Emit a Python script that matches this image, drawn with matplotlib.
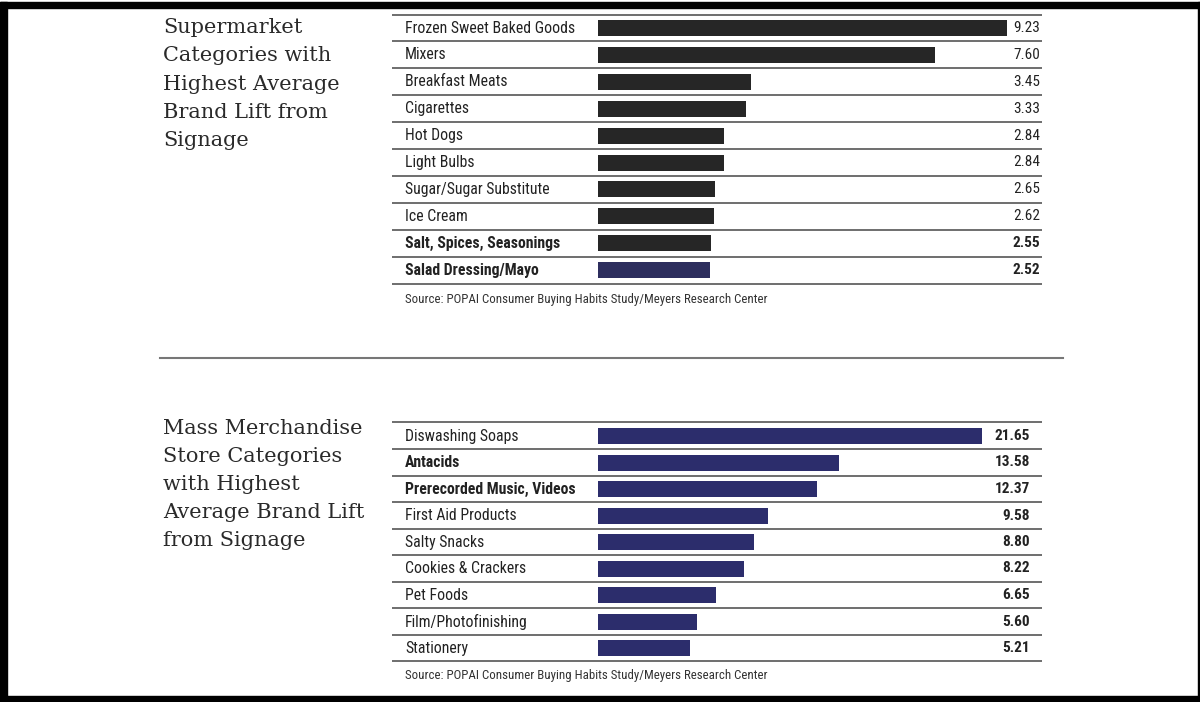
import matplotlib.pyplot as plt
from matplotlib import font_manager
from matplotlib.patches import Rectangle
from matplotlib.lines import Line2D

# supermarket panel
super_cats = ["Frozen Sweet Baked Goods", "Mixers", "Breakfast Meats", "Cigarettes",
              "Hot Dogs", "Light Bulbs", "Sugar/Sugar Substitute", "Ice Cream",
              "Salt, Spices, Seasonings", "Salad Dressing/Mayo"]
super_vals = [9.23, 7.60, 3.45, 3.33, 2.84, 2.84, 2.65, 2.62, 2.55, 2.52]
super_bold = [False] * 8 + [True, True]

# mass merchandise panel
mass_cats = ["Diswashing Soaps", "Antacids", "Prerecorded Music, Videos",
             "First Aid Products", "Salty Snacks", "Cookies & Crackers",
             "Pet Foods", "Film/Photofinishing", "Stationery"]
mass_vals = [21.65, 13.58, 12.37, 9.58, 8.80, 8.22, 6.65, 5.60, 5.21]
mass_bold = [False, True, True, False, False, False, False, False, False]

source = "Source: POPAI Consumer Buying Habits Study/Meyers Research Center"
title_top = "Supermarket\nCategories with\nHighest Average\nBrand Lift from\nSignage"
title_bot = "Mass Merchandise\nStore Categories\nwith Highest\nAverage Brand Lift\nfrom Signage"

W, H = 1200, 702
names = {f.name for f in font_manager.fontManager.ttflist}
SANS = [n for n in ["Liberation Sans Narrow", "DejaVu Sans Condensed", "Roboto Condensed"]
        if n in names] + ["DejaVu Sans"]
SERIF = ["DejaVu Serif"]

fig = plt.figure(figsize=(W / 100, H / 100), dpi=100)
fig.patch.set_facecolor("white")


def px_ax(x0, y0, x1, y1):
    # axes placed in pixel coordinates (y from top)
    return fig.add_axes([x0 / W, 1 - y1 / H, (x1 - x0) / W, (y1 - y0) / H])


def panel(cats, vals, bold, colors, zero_px, scale, row0, step, top_px, bot_px,
          val_right, val_bold, src_px, line_top):
    ax = px_ax(390, top_px, 1045, bot_px)
    ax.set_xlim((390 - zero_px) / scale, (1045 - zero_px) / scale)
    ax.set_ylim((bot_px - row0) / step, (top_px - row0) / step)
    ax.axis("off")
    idx = list(range(len(cats)))
    ax.barh(idx, vals, height=16 / step, left=0, color=colors, edgecolor="none")
    xl = (405 - zero_px) / scale
    xr = (val_right - zero_px) / scale
    x_lo, x_hi = (392 - zero_px) / scale, (1042 - zero_px) / scale
    lines = [(line_top - row0) / step] + [i + 0.5 for i in idx]
    ax.hlines(lines, x_lo, x_hi, color="#555555", lw=1.2)
    for i, (c, v) in enumerate(zip(cats, vals)):
        ax.text(xl, i, c, ha="left", va="center", fontsize=11.3, family=SANS,
                fontstretch="condensed",
                fontweight="semibold" if bold[i] else "normal", color="#222222")
        ax.text(xr, i, f"{v:.2f}", ha="right", va="center", fontsize=11,
                family=SANS, fontstretch="condensed",
                fontweight="semibold" if (val_bold or bold[i]) else "normal",
                color="#222222")
    ax.text(xl, (src_px - row0) / step, source, ha="left", va="center",
            fontsize=9.3, family=SANS, fontstretch="condensed", color="#333333")
    return ax


top_colors = ["#262626"] * 9 + ["#2d2e5e"]
panel(super_cats, super_vals, super_bold, top_colors, 598, (1007 - 598) / 9.23,
      28, 26.9, 10, 310, 1040, False, 299, 15)
panel(mass_cats, mass_vals, mass_bold, ["#2c2d6c"] * 9, 598, (982 - 598) / 21.65,
      436, 26.5, 410, 690, 1030, True, 675, 422)

# titles
fig.text(163 / W, 1 - 18 / H, title_top, ha="left", va="top", fontsize=15,
         family=SERIF, color="#2a2a2a", linespacing=1.62)
fig.text(163 / W, 1 - 419 / H, title_bot, ha="left", va="top", fontsize=15,
         family=SERIF, color="#2a2a2a", linespacing=1.6)

# divider between the panels
fig.add_artist(Line2D([160 / W, 1063 / W], [1 - 358 / H] * 2, color="#777777", lw=1.5))

# black frame
fig.add_artist(Rectangle((0, 1 - 8 / H), 1, 6 / H, color="black", transform=fig.transFigure))
fig.add_artist(Rectangle((0, 0), 7 / W, 1 - 2 / H, color="black", transform=fig.transFigure))
fig.add_artist(Rectangle((0, 0), 1, 6 / H, color="black", transform=fig.transFigure))
fig.add_artist(Rectangle((1 - 2 / W, 0), 2 / W, 1 - 2 / H, color="black", transform=fig.transFigure))

fig.savefig("out.png", dpi=100)
